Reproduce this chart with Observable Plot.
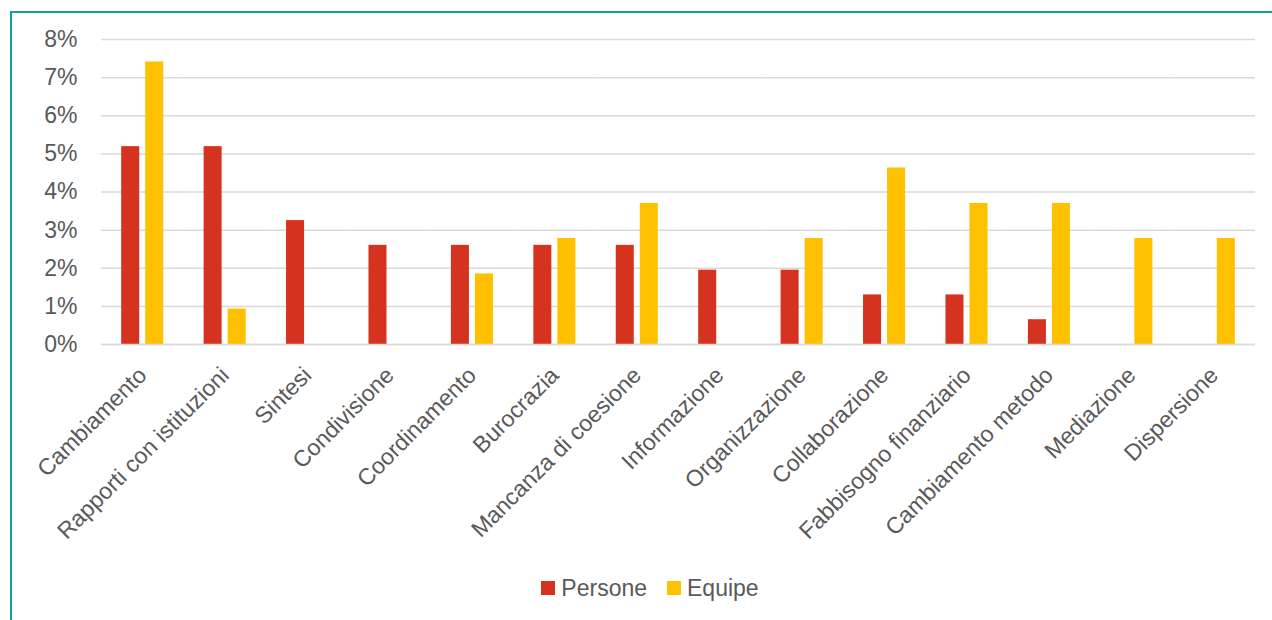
<!DOCTYPE html>
<html>
<head>
<meta charset="utf-8">
<script src="https://cdn.jsdelivr.net/npm/d3@7"></script>
<script src="https://cdn.jsdelivr.net/npm/@observablehq/plot@0.6"></script>
<style>
  html, body { margin: 0; padding: 0; background: #fff; }
  body { width: 1272px; height: 620px; position: relative; overflow: hidden; font-family: "Liberation Sans", Arial, sans-serif; }
  #frame { position: absolute; left: 10px; top: 11px; width: 1270px; height: 620px; border-left: 2px solid #12a38f; border-top: 2px solid #12a38f; }
  #chart { position: absolute; left: 0; top: 0; }
  #legend { position: absolute; left: 0; top: 574px; width: 1300px; text-align: center; font-size: 23px; color: #595959; }
  .item { display: inline-flex; align-items: center; margin: 0 10px; }
  .sw { width: 14px; height: 14px; display: inline-block; margin-right: 6px; }
</style>
</head>
<body>
<div id="frame"></div>
<div id="chart"></div>
<div id="legend"></div>
<script>
const categories = ["Cambiamento", "Rapporti con istituzioni", "Sintesi", "Condivisione", "Coordinamento", "Burocrazia", "Mancanza di coesione", "Informazione", "Organizzazione", "Collaborazione", "Fabbisogno finanziario", "Cambiamento metodo", "Mediazione", "Dispersione"];
const series = ["Persone", "Equipe"];
const colors = ["#d53220", "#ffc000"];
const persone = [5.19, 5.19, 3.25, 2.60, 2.60, 2.60, 2.60, 1.95, 1.95, 1.30, 1.30, 0.65, 0, 0];
const equipe = [7.41, 0.93, 0, 0, 1.85, 2.78, 3.70, 0, 2.78, 4.63, 3.70, 3.70, 2.78, 2.78];
const yTicks = [0, 1, 2, 3, 4, 5, 6, 7, 8];

const data = [];
categories.forEach((c, i) => {
  data.push({cat: c, series: series[0], value: persone[i]});
  data.push({cat: c, series: series[1], value: equipe[i]});
});

const chart = Plot.plot({
  width: 1272,
  height: 570,
  marginLeft: 101,
  marginRight: 17,
  marginTop: 39,
  marginBottom: 226,
  style: {fontFamily: "'Liberation Sans', Arial, sans-serif", fontSize: "23px", color: "#595959", background: "transparent"},
  fx: {domain: categories, padding: 0, round: false, label: null, tickRotate: -45, tickSize: 0, tickPadding: 27},
  x: {domain: series, axis: null, round: false, paddingInner: 0.25, paddingOuter: 0.84},
  y: {domain: [0, 8], ticks: yTicks, tickFormat: d => d + "%", label: null, tickSize: 0, tickPadding: 24},
  color: {domain: series, range: colors},
  marks: [
    Plot.gridY(yTicks, {stroke: "#d9d9d9", strokeOpacity: 1, strokeWidth: 1.5}),
    Plot.barY(data.filter(d => d.value > 0), {fx: "cat", x: "series", y: "value", fill: "series"}),
    Plot.ruleY([0], {stroke: "#d9d9d9", strokeWidth: 1.5})
  ]
});
document.getElementById("chart").appendChild(chart);

const legend = document.getElementById("legend");
series.forEach((s, i) => {
  const it = document.createElement("span");
  it.className = "item";
  it.innerHTML = `<span class="sw" style="background:${colors[i]}"></span>${s}`;
  legend.appendChild(it);
});
</script>
</body>
</html>
